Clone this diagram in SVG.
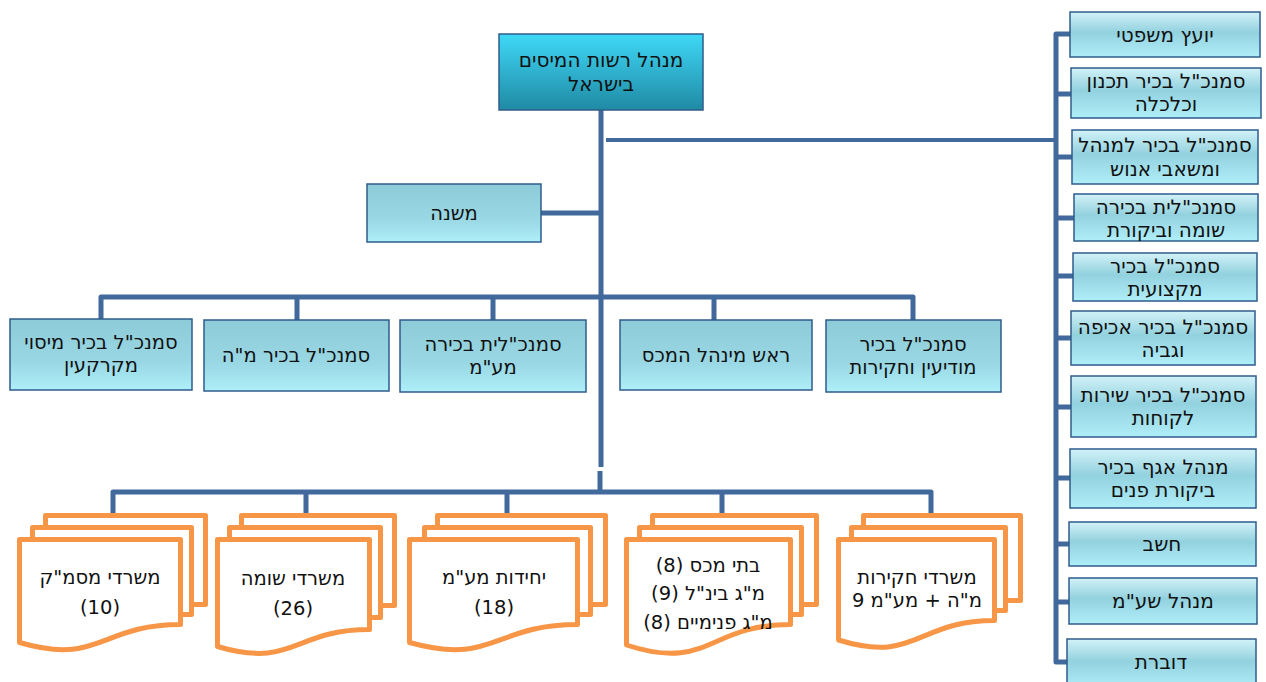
<svg xmlns="http://www.w3.org/2000/svg" width="1266" height="682" viewBox="0 0 1266 682">
<defs>
<linearGradient id="gTop" x1="0" y1="0" x2="0" y2="1">
<stop offset="0" stop-color="#3fd8f7"/>
<stop offset="1" stop-color="#1f8aa4"/>
</linearGradient>
<linearGradient id="gSide" x1="0" y1="0" x2="0" y2="1">
<stop offset="0" stop-color="#d2f2f8"/>
<stop offset="0.45" stop-color="#92d1de"/>
<stop offset="1" stop-color="#b0eff9"/>
</linearGradient>
<linearGradient id="gMid" x1="0" y1="0" x2="0" y2="1">
<stop offset="0" stop-color="#8ecbd8"/>
<stop offset="0.6" stop-color="#98d7e3"/>
<stop offset="1" stop-color="#aeeff9"/>
</linearGradient>
</defs>
<style>
.box{stroke:#2f5c8c;stroke-width:1.5}
.top{fill:url(#gTop)}
.side{fill:url(#gSide)}
.mid{fill:url(#gMid)}
.t{font-family:"DejaVu Sans","Liberation Sans",sans-serif;font-size:19.5px;fill:#111;text-anchor:middle;direction:rtl}
.tt{font-size:20px}
.tr{font-size:20px}
.td{font-size:19.5px}
.ln{fill:none;stroke:#41699b;stroke-width:5;stroke-linejoin:round;stroke-linecap:butt}
.ln4{fill:none;stroke:#41699b;stroke-width:4}
.doc{fill:#fff;stroke:#f79646;stroke-width:5;stroke-linejoin:round}
</style>
<rect width="1266" height="682" fill="#fff"/>
<g id="connectors">
<path class="ln" d="M601,110 V467"/>
<path class="ln" d="M600,471 V492"/>
<path class="ln4" d="M606,140 H1056"/>
<path class="ln" d="M1070,34 H1056 V662 H1067"/>
<path class="ln" d="M1056,94 H1071 M1056,157 H1072 M1056,218 H1074 M1056,276 H1073 M1056,338 H1071 M1056,407 H1071 M1056,478 H1070 M1056,544 H1069 M1056,602 H1069"/>
<path class="ln" d="M541,213 H601"/>
<path class="ln" d="M101,320 V297 H913 V320 M297,297 V320 M493,297 V320 M714,297 V320"/>
<path class="ln" d="M113,513 V492 H931 V513 M306,492 V513 M507,492 V513 M722,492 V513"/>
</g>
<g id="n-head">
<rect class="box top" x="499" y="34" width="204" height="76"/>
<text class="t tt" x="601" y="67">מנהל רשות המיסים</text>
<text class="t tt" x="601" y="91">בישראל</text>
</g>
<g id="n-deputy">
<rect class="box mid" x="367" y="184" width="174" height="58"/>
<text class="t" x="454" y="220">משנה</text>
</g>
<g id="n-m1">
<rect class="box mid" x="10" y="319" width="182" height="71"/>
<text class="t" x="101" y="349">סמנכ"ל בכיר מיסוי</text>
<text class="t" x="101" y="372">מקרקעין</text>
</g>
<g id="n-m2">
<rect class="box mid" x="204" y="320" width="185" height="71"/>
<text class="t" x="296" y="362">סמנכ"ל בכיר מ"ה</text>
</g>
<g id="n-m3">
<rect class="box mid" x="400" y="320" width="186" height="72"/>
<text class="t" x="493" y="351">סמנכ"לית בכירה</text>
<text class="t" x="493" y="374">מע"מ</text>
</g>
<g id="n-m4">
<rect class="box mid" x="620" y="320" width="192" height="70"/>
<text class="t" x="716" y="362">ראש מינהל המכס</text>
</g>
<g id="n-m5">
<rect class="box mid" x="826" y="320" width="175" height="72"/>
<text class="t" x="913" y="351">סמנכ"ל בכיר</text>
<text class="t" x="913" y="374">מודיעין וחקירות</text>
</g>
<g id="n-r1">
<rect class="box side" x="1070" y="12" width="190" height="45"/>
<text class="t tr" x="1165" y="42">יועץ משפטי</text>
</g>
<g id="n-r2">
<rect class="box side" x="1071" y="68" width="190" height="50"/>
<text class="t tr" x="1166" y="88">סמנכ"ל בכיר תכנון</text>
<text class="t tr" x="1166" y="111">וכלכלה</text>
</g>
<g id="n-r3">
<rect class="box side" x="1072" y="130" width="186" height="54"/>
<text class="t tr" x="1165" y="152">סמנכ"ל בכיר למנהל</text>
<text class="t tr" x="1165" y="176">ומשאבי אנוש</text>
</g>
<g id="n-r4">
<rect class="box side" x="1074" y="194" width="184" height="47"/>
<text class="t tr" x="1166" y="214">סמנכ"לית בכירה</text>
<text class="t tr" x="1166" y="237">שומה וביקורת</text>
</g>
<g id="n-r5">
<rect class="box side" x="1073" y="253" width="184" height="48"/>
<text class="t tr" x="1165" y="273">סמנכ"ל בכיר</text>
<text class="t tr" x="1165" y="296">מקצועית</text>
</g>
<g id="n-r6">
<rect class="box side" x="1071" y="311" width="184" height="54"/>
<text class="t tr" x="1163" y="334">סמנכ"ל בכיר אכיפה</text>
<text class="t tr" x="1163" y="357">וגביה</text>
</g>
<g id="n-r7">
<rect class="box side" x="1071" y="376" width="185" height="61"/>
<text class="t tr" x="1163" y="402">סמנכ"ל בכיר שירות</text>
<text class="t tr" x="1163" y="425">לקוחות</text>
</g>
<g id="n-r8">
<rect class="box side" x="1070" y="449" width="186" height="59"/>
<text class="t tr" x="1163" y="474">מנהל אגף בכיר</text>
<text class="t tr" x="1163" y="497">ביקורת פנים</text>
</g>
<g id="n-r9">
<rect class="box side" x="1069" y="522" width="187" height="44"/>
<text class="t tr" x="1162" y="551">חשב</text>
</g>
<g id="n-r10">
<rect class="box side" x="1069" y="578" width="188" height="46"/>
<text class="t tr" x="1163" y="608">מנהל שע"מ</text>
</g>
<g id="n-r11">
<rect class="box side" x="1067" y="639" width="189" height="50"/>
<text class="t tr" x="1161" y="669">דוברת</text>
</g>
<g id="n-d1">
<rect class="doc" x="45.5" y="515.5" width="160" height="89"/>
<rect class="doc" x="32.5" y="527.5" width="159" height="87"/>
<path class="doc" d="M19.5,539.5 H180.5 V624.5 C100,624.5 100,666 19.5,642.5 Z"/>
<text class="t td" x="100" y="584">משרדי מסמ"ק</text>
<text class="t td" x="100" y="614">(10)</text>
</g>
<g id="n-d2">
<rect class="doc" x="241.5" y="515.5" width="153" height="90"/>
<rect class="doc" x="229.5" y="527.5" width="151" height="90"/>
<path class="doc" d="M217.5,539.5 H369.5 V629.5 C293.5,629.5 293.5,669 217.5,646.5 Z"/>
<text class="t td" x="293" y="585">משרדי שומה</text>
<text class="t td" x="293" y="615">(26)</text>
</g>
<g id="n-d3">
<rect class="doc" x="437.5" y="515.5" width="168" height="89"/>
<rect class="doc" x="424.5" y="527.5" width="166" height="87"/>
<path class="doc" d="M409.5,539.5 H577.5 V624.5 C493.5,624.5 493.5,666 409.5,642.5 Z"/>
<text class="t td" x="494" y="584">יחידות מע"מ</text>
<text class="t td" x="494" y="614">(18)</text>
</g>
<g id="n-d4">
<rect class="doc" x="652.5" y="515.5" width="164" height="89"/>
<rect class="doc" x="639.5" y="527.5" width="162" height="87"/>
<path class="doc" d="M626.5,539.5 H790.5 V624.5 C708.5,624.5 708.5,672 626.5,645 Z"/>
<text class="t td" x="708" y="572">בתי מכס (8)</text>
<text class="t td" x="708" y="600">מ"ג בינ"ל (9)</text>
<text class="t td" x="708" y="629">מ"ג פנימיים (8)</text>
</g>
<g id="n-d5">
<rect class="doc" x="863.5" y="515.5" width="157" height="85"/>
<rect class="doc" x="851.5" y="527.5" width="154" height="83"/>
<path class="doc" d="M838.5,539.5 H994.5 V620.5 C916.5,620.5 916.5,664 838.5,640 Z"/>
<text class="t td" x="917" y="584">משרדי חקירות</text>
<text class="t td" x="917" y="607">מ"ה + מע"מ 9</text>
</g>
</svg>
